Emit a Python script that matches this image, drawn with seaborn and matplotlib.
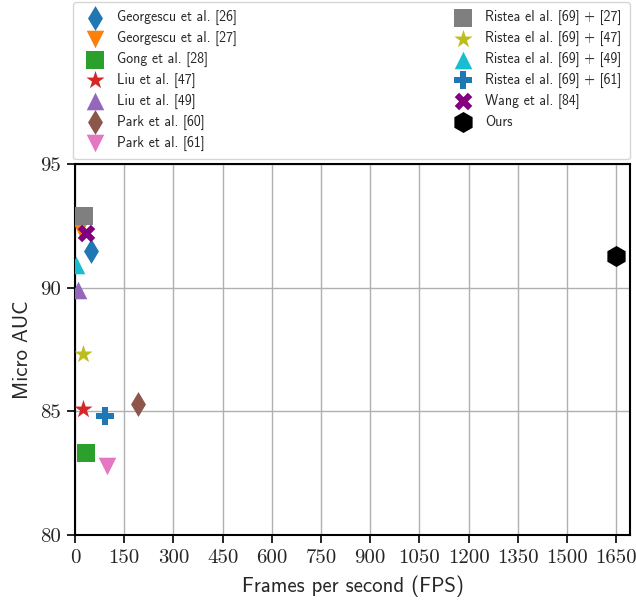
import numpy as np
import pandas as pd
import matplotlib
matplotlib.use("Agg")
import matplotlib.pyplot as plt
import seaborn as sns

# data
methods = [
    "Georgescu et al. [26]", "Georgescu et al. [27]", "Gong et al. [28]",
    "Liu et al. [47]", "Liu et al. [49]", "Park et al. [60]", "Park et al. [61]",
    "Ristea el al. [69] + [27]", "Ristea el al. [69] + [47]",
    "Ristea el al. [69] + [49]", "Ristea el al. [69] + [61]",
    "Wang et al. [84]", "Ours",
]
fps = [49, 15, 33, 25, 10, 192, 98, 27, 25, 3, 92, 33, 1650]
auc = [91.5, 92.4, 83.3, 85.1, 89.9, 85.3, 82.8, 92.9, 87.3, 90.9, 84.8, 92.2, 91.3]
markers = ["d", "v", "s", "*", "^", "d", "v", "s", "*", "^", "P", "X", "h"]
colors = ["#1f77b4", "#ff7f0e", "#2ca02c", "#d62728", "#9467bd", "#8c564b",
          "#e377c2", "#7f7f7f", "#bcbd22", "#17becf", "#1f77b4", "#800080", "black"]
sizes = [160, 160, 150, 190, 160, 160, 160, 150, 190, 160, 170, 160, 230]

df = pd.DataFrame({"method": methods, "fps": fps, "auc": auc})

sns.set_style("whitegrid")
plt.rcParams["axes.unicode_minus"] = False

fig = plt.figure(figsize=(6.36, 6.02), dpi=100)
ax = fig.add_axes([75 / 636, 1 - 535 / 602, 555 / 636, 371 / 602])

for m, x, y, mk, c, s in zip(methods, fps, auc, markers, colors, sizes):
    sns.scatterplot(x=[x], y=[y], marker=mk, color=c, s=s, linewidth=0,
                    label=m, ax=ax, zorder=3)

ax.set_xlim(0, 1692)
ax.set_ylim(80, 95)
ax.set_xticks(np.arange(0, 1651, 150))
ax.set_yticks([80, 85, 90, 95])
ax.grid(True, color="#b0b0b0", linewidth=1.0)
for sp in ax.spines.values():
    sp.set_color("black")
    sp.set_linewidth(1.5)
ax.tick_params(axis="both", direction="out", length=6, width=1.2, color="black",
               bottom=True, left=True, pad=4)
for lab in ax.get_xticklabels() + ax.get_yticklabels():
    lab.set_fontfamily("cmr10")
    lab.set_fontsize(15)

ax.set_xlabel("Frames per second (FPS)", fontfamily="cmss10", fontsize=15, labelpad=6)
ax.set_ylabel("Micro AUC", fontfamily="cmss10", fontsize=15, labelpad=6)

leg = ax.legend(loc="upper left",
                bbox_to_anchor=(73 / 636, 1 - 2 / 602 - 0.01, 557 / 636, 0.01),
                bbox_transform=fig.transFigure,
                mode="expand", ncol=2, frameon=True, fancybox=True,
                prop={"family": "cmss10", "size": 10}, labelspacing=0.42,
                handlelength=2.0, handletextpad=0.6, borderaxespad=0,
                borderpad=0.6)
leg.get_frame().set_edgecolor("#cccccc")

fig.savefig("out.png", dpi=100)
